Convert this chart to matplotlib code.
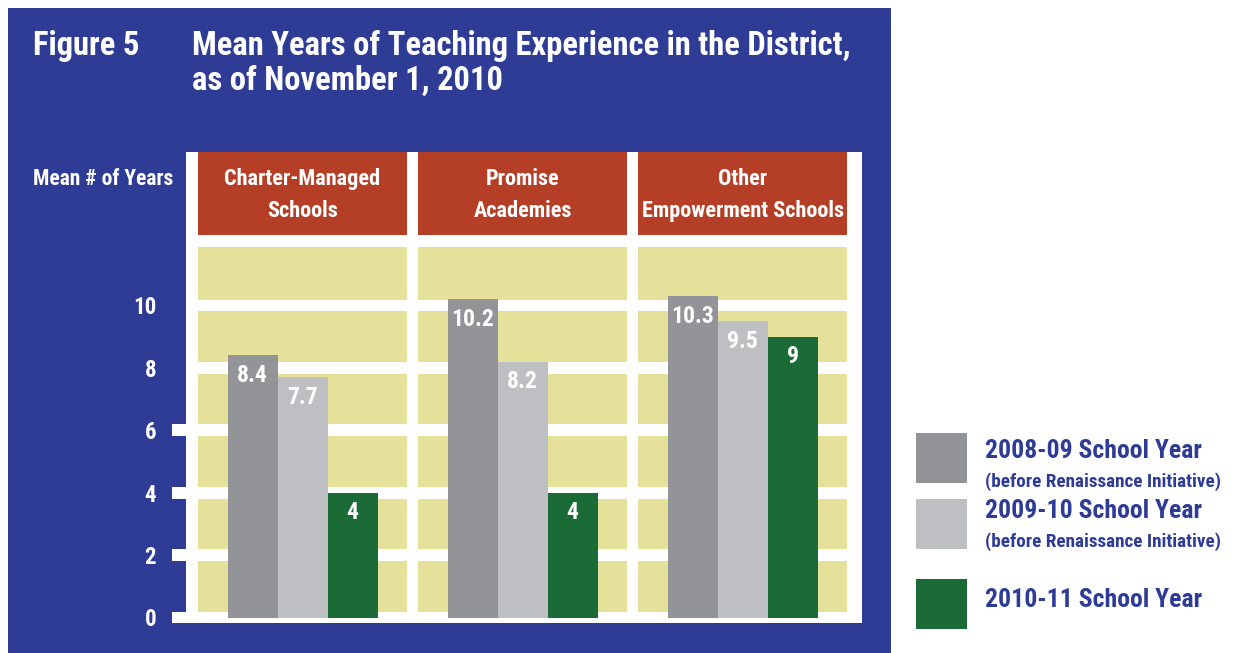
import matplotlib
matplotlib.use("Agg")
import matplotlib.pyplot as plt
from matplotlib.patches import Rectangle
import numpy as np

# chart data
groups = ["Charter-Managed\nSchools", "Promise\nAcademies", "Other\nEmpowerment Schools"]
years_0809 = [8.4, 10.2, 10.3]
years_0910 = [7.7, 8.2, 9.5]
years_1011 = [4, 4, 9]
series_names = ["2008-09 School Year", "2009-10 School Year", "2010-11 School Year"]
series_notes = ["(before Renaissance Initiative)", "(before Renaissance Initiative)", ""]
yticks = [0, 2, 4, 6, 8, 10]

title_tag = "Figure 5"
title_lines = ["Mean Years of Teaching Experience in the District,", "as of November 1, 2010"]
ylabel = "Mean # of Years"

# colours
BLUE = "#2e3c96"
RED = "#b43f26"
YELLOW = "#e5e19a"
DARK = "#939497"
LIGHT = "#bebfc2"
GREEN = "#1b6b36"
series_colors = [DARK, LIGHT, GREEN]

plt.rcParams["font.family"] = ["Roboto Condensed", "Archivo Narrow", "Liberation Sans", "DejaVu Sans"]
plt.rcParams["font.weight"] = "bold"

W, H = 1235, 653
fig = plt.figure(figsize=(W / 100, H / 100), dpi=100)

# background layer in pixel coordinates
bg = fig.add_axes([0, 0, 1, 1])
bg.set_xlim(0, W)
bg.set_ylim(H, 0)
bg.axis("off")
bg.add_patch(Rectangle((8, 8), 883, H, facecolor=BLUE, edgecolor="none"))

bg.text(33, 55, title_tag, color="white", fontsize=23.5, fontweight="bold", va="baseline")
bg.text(192, 55, title_lines[0], color="white", fontsize=23.5, fontweight="bold", va="baseline")
bg.text(192, 90, title_lines[1], color="white", fontsize=23.5, fontweight="bold", va="baseline")
bg.text(33, 185, ylabel, color="white", fontsize=15.5, fontweight="bold", va="baseline")

# legend (drawn by hand, outside the blue panel)
sq_top = [433, 499, 579]
name_base = [458, 518, 607]
note_base = [487, 547, None]
for i in range(3):
    bg.add_patch(Rectangle((916, sq_top[i]), 51, 50, facecolor=series_colors[i], edgecolor="none"))
    bg.text(985, name_base[i], series_names[i], color=BLUE, fontsize=18.5, fontweight="bold", va="baseline")
    if series_notes[i]:
        bg.text(985, note_base[i], series_notes[i], color=BLUE, fontsize=13.8, fontweight="bold", va="baseline")

# chart axes: x in group units (pitch 220 px), y in years (31.2 px per year)
px_x = 220.0
px_y = 31.2
x0_px, y0_px = 302.5, 617.5
left_px, right_px, top_px, bot_px = 172, 862, 152, 623.3
ax = fig.add_axes([left_px / W, 1 - bot_px / H, (right_px - left_px) / W, (bot_px - top_px) / H])
ax.patch.set_alpha(0)
xl = (left_px - x0_px) / px_x
xr = (right_px - x0_px) / px_x
yb = -(bot_px - y0_px) / px_y
yt = (y0_px - top_px) / px_y
ax.set_xlim(xl, xr)
ax.set_ylim(yb, yt)
for s in ax.spines.values():
    s.set_visible(False)

white_l = (186 - x0_px) / px_x
half_line = 6 / px_y
ax.add_patch(Rectangle((white_l, yb), xr - white_l, yt - yb, facecolor="white", edgecolor="none", zorder=0))
for t in [0, 2, 4, 6]:
    lo = yb if t == 0 else t - half_line
    ax.add_patch(Rectangle((xl, lo), white_l - xl + 0.01, t + half_line - lo, facecolor="white",
                           edgecolor="none", zorder=0))

x = np.arange(len(groups))
col_half = 104.5 / px_x
band_top = (y0_px - 247.3) / px_y
head_lo = (y0_px - 235) / px_y
for xi in x:
    for k in range(6):
        lo = 2 * k + half_line
        hi = band_top if k == 5 else 2 * k + 2 - half_line
        ax.add_patch(Rectangle((xi - col_half, lo), 2 * col_half, hi - lo, facecolor=YELLOW,
                               edgecolor="none", zorder=1))
    ax.add_patch(Rectangle((xi - col_half, head_lo), 2 * col_half, yt - head_lo, facecolor=RED,
                           edgecolor="none", zorder=1))

# header labels
line_base = [(y0_px - 185) / px_y, (y0_px - 216.7) / px_y]
for xi, g in zip(x, groups):
    for j, line in enumerate(g.split("\n")):
        ax.text(xi, line_base[j], line, color="white", fontsize=16, fontweight="bold",
                ha="center", va="baseline", zorder=3)

# bars
bw = 50 / px_x
for i, vals in enumerate([years_0809, years_0910, years_1011]):
    bars = ax.bar(x + (i - 1) * bw, vals, bw, color=series_colors[i], zorder=2)
    for b, v in zip(bars, vals):
        ax.annotate(f"{v:g}", (b.get_x() + b.get_width() / 2, v), xytext=(0, -14.5),
                    textcoords="offset points", ha="center", va="center", color="white",
                    fontsize=17, fontweight="bold", zorder=3)

ax.set_xticks([])
ax.set_yticks(yticks)
ax.set_yticklabels([str(t) for t in yticks])
ax.tick_params(axis="y", length=0, pad=11.5, labelsize=16.5, labelcolor="white")

fig.savefig("out.png", dpi=100)
